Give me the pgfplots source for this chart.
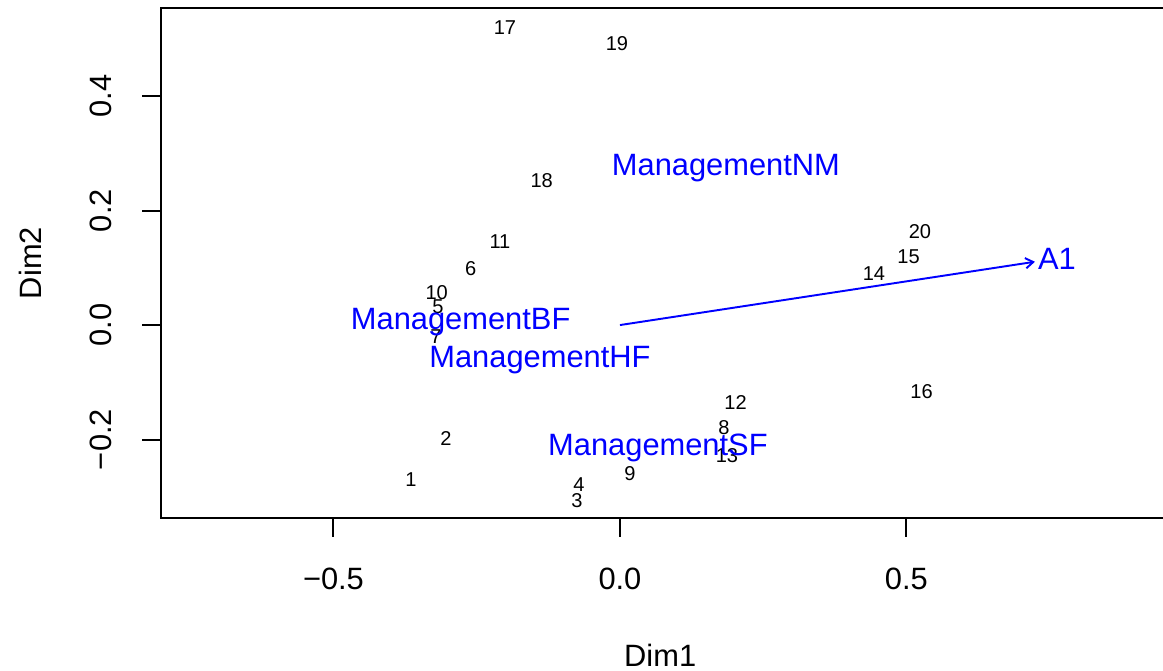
\documentclass[border=0pt]{standalone}
\usepackage{fontspec}
\setmainfont{Liberation Sans}
\usepackage{pgfplots}
\usepackage{pgfplotstable}
\pgfplotsset{compat=1.18}
\usetikzlibrary{arrows.meta}
\definecolor{rblue}{RGB}{0,0,255}

\pgfplotstableread{
x y lab
-0.3647 -0.2707 1
-0.3037 -0.1974 2
-0.0750 -0.3069 3
-0.0716 -0.2795 4
-0.3176 0.0314 5
-0.2606 0.0978 6
-0.3211 -0.0210 7
0.1815 -0.1799 8
0.0175 -0.2603 9
-0.3199 0.0564 10
-0.2094 0.1455 11
0.2019 -0.1357 12
0.1867 -0.2288 13
0.4433 0.0891 14
0.5038 0.1188 15
0.5265 -0.1170 16
-0.2007 0.5188 17
-0.1366 0.2515 18
-0.0052 0.4908 19
0.5236 0.1630 20
}\sites

\pgfplotstableread{
x y lab
-0.278 0.0058 ManagementBF
-0.1396 -0.0611 ManagementHF
0.185 0.2742 ManagementNM
0.0663 -0.2148 ManagementSF
0.7627 0.1153 A1
}\cent

\begin{document}
\begin{tikzpicture}
\begin{axis}[
  scale only axis,
  width=390.8pt, height=198.4pt,
  xmin=-0.801, xmax=0.952, ymin=-0.337, ymax=0.5537,
  axis line style={line width=0.75pt, black},
  tick style={line width=0.75pt, black},
  tick align=outside, major tick length=7.3pt,
  xtick pos=lower, ytick pos=left,
  xtick={-0.5,0,0.5}, xticklabels={−0.5,0.0,0.5},
  ytick={-0.2,0,0.2,0.4}, yticklabels={−0.2,0.0,0.2,0.4},
  tick label style={font=\fontsize{12}{14}\selectfont},
  xticklabel style={anchor=center, yshift=-16.3pt},
  yticklabel style={xshift=-15.9pt, rotate=90, anchor=center},
  xlabel={Dim1}, ylabel={Dim2},
  label style={font=\fontsize{12}{14}\selectfont},
  xlabel style={at={(axis description cs:0.497,-0.2687)}, anchor=center},
  ylabel style={at={(axis description cs:-0.1305,0.5)}, anchor=center},
  clip=false,
]
\addplot[only marks, mark=*, mark size=0pt, mark options={draw=none, fill=none},
  nodes near coords, point meta=explicit symbolic,
  every node near coord/.style={anchor=center, inner sep=0pt, black, font=\fontsize{7.8}{9}\selectfont}]
  table[x=x, y=y, meta=lab] {\sites};
\addplot[rblue, line width=0.75pt, -{Straight Barb[length=3pt, width=4pt]}]
  coordinates {(0,0) (0.7243,0.1106)};
\addplot[only marks, mark=*, mark size=0pt, mark options={draw=none, fill=none},
  nodes near coords, point meta=explicit symbolic,
  every node near coord/.style={anchor=center, inner sep=0pt, text=rblue, font=\fontsize{12}{14}\selectfont}]
  table[x=x, y=y, meta=lab] {\cent};
\end{axis}
\pgfresetboundingbox
\useasboundingbox ([shift={(-62.64pt,-59.14pt)}]current axis.south west) rectangle ([shift={(389.86pt,201.54pt)}]current axis.south west);
\end{tikzpicture}
\end{document}
